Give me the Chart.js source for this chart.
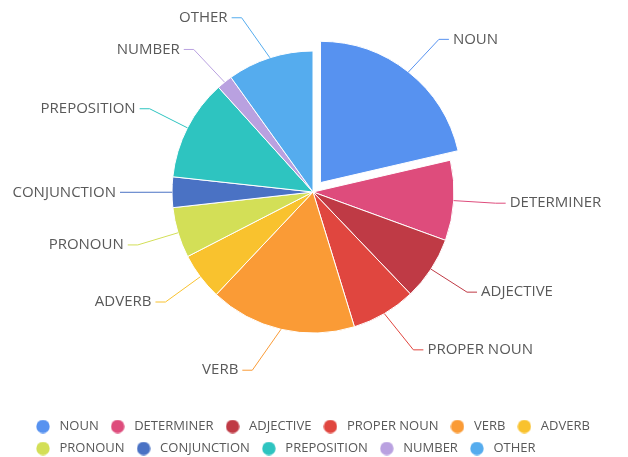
<!DOCTYPE html>
<html>
<head>
<meta charset="utf-8">
<script src="https://cdn.jsdelivr.net/npm/chart.js@4/dist/chart.umd.min.js"></script>
<style>
  html, body { margin: 0; padding: 0; background: #fff; }
  #wrap { width: 628px; height: 457px; position: relative; }
</style>
</head>
<body>
<div id="wrap"><canvas id="pos-pie"></canvas></div>
<script>
/* Part-of-speech share, pie with outside labels */

const LABELS = ['NOUN', 'DETERMINER', 'ADJECTIVE', 'PROPER NOUN', 'VERB', 'ADVERB',
  'PRONOUN', 'CONJUNCTION', 'PREPOSITION', 'NUMBER', 'OTHER'];
const VALUES = [21.4, 9.2, 7.3, 7.4, 16.8, 5.4, 5.8, 3.5, 11.6, 1.8, 9.9];
const COLORS = ['#5792f0', '#de4c7c', '#bf3a45', '#e0463f', '#fa9b36', '#f9c22e',
  '#d3df57', '#4a72c4', '#2ec4c0', '#b9a1e0', '#55acee'];
const EXPLODED = ['NOUN'];

const TEXT_COLOR = '#595959';
Chart.defaults.font.family = "'Open Sans', sans-serif";

// little round swatch for the legend (keeps a gap between dot and text)
function dot(color) {
  const c = document.createElement('canvas');
  c.width = 14; c.height = 14;
  const g = c.getContext('2d');
  g.fillStyle = color;
  g.beginPath(); g.arc(7, 7, 6.7, 0, Math.PI * 2); g.fill();
  return c;
}

// outside labels with a bent leader line, drawn from each arc's geometry
const sliceLabels = {
  id: 'sliceLabels',
  afterDatasetsDraw(chart) {
    const { ctx } = chart;
    const meta = chart.getDatasetMeta(0);
    ctx.save();
    ctx.font = "15px 'Open Sans'";
    ctx.textBaseline = 'middle';
    ctx.lineWidth = 1;
    meta.data.forEach((arc, i) => {
      const p = arc.getProps(['x', 'y', 'startAngle', 'endAngle', 'outerRadius'], true);
      const mid = (p.startAngle + p.endAngle) / 2;
      const cos = Math.cos(mid), sin = Math.sin(mid);
      const shift = (arc.options.offset || 0) / 4;
      const cx = p.x + cos * shift, cy = p.y + sin * shift;
      const r = p.outerRadius;
      const right = cos >= 0;
      const dir = right ? 1 : -1;
      const x0 = cx + cos * r, y0 = cy + sin * r;
      // labels near top/bottom get pushed a bit further sideways
      const spread = 32 * Math.pow(1 - Math.abs(cos), 2);
      const x1 = cx + cos * (r + 42) + dir * spread, y1 = cy + sin * (r + 42);
      const x2 = x1 + dir * 10;
      ctx.strokeStyle = COLORS[i];
      ctx.beginPath();
      ctx.moveTo(x0, y0); ctx.lineTo(x1, y1); ctx.lineTo(x2, y1);
      ctx.stroke();
      ctx.fillStyle = TEXT_COLOR;
      ctx.textAlign = right ? 'left' : 'right';
      ctx.fillText(chart.data.labels[i], x2 + dir * 4, y1);
    });
    ctx.restore();
  },
};

new Chart(document.getElementById('pos-pie'), {
  type: 'pie',
  data: {
    labels: LABELS,
    datasets: [{
      data: VALUES,
      backgroundColor: COLORS,
      borderColor: '#ffffff',
      borderWidth: 1,
      offset: LABELS.map(l => EXPLODED.includes(l) ? 48 : 0),
      hoverOffset: 0,
    }],
  },
  options: {
    responsive: true,
    maintainAspectRatio: false,
    animation: false,
    radius: 141,
    layout: { padding: { left: 24, right: 26, top: 0, bottom: -8 } },
    plugins: {
      tooltip: { enabled: false },
      legend: {
        position: 'bottom',
        align: 'start',
        // empty title only keeps a gap between the pie and the legend rows
        title: { display: true, text: '', font: { size: 10 }, padding: { top: 15, bottom: 0 } },
        labels: {
          usePointStyle: true,
          pointStyleWidth: 20,
          boxHeight: 13,
          padding: 9,
          color: TEXT_COLOR,
          font: { size: 13 },
          generateLabels: () => LABELS.map((t, i) => ({
            text: t,
            fillStyle: COLORS[i],
            strokeStyle: COLORS[i],
            lineWidth: 0,
            pointStyle: dot(COLORS[i]),
            fontColor: TEXT_COLOR,
            hidden: false,
            index: i,
          })),
        },
      },
    },
  },
  plugins: [sliceLabels],
});
</script>
</body>
</html>
